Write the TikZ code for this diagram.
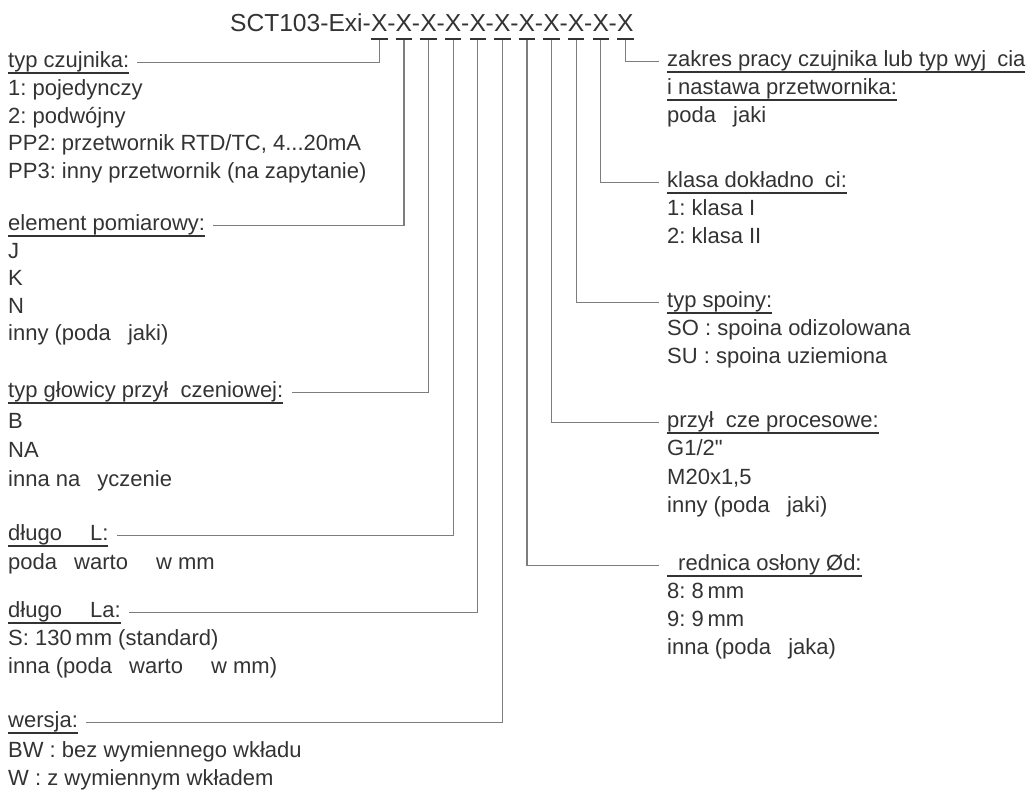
\documentclass[tikz,border=0pt]{standalone}
\usepackage{fontspec}
\setmainfont{Liberation Sans}
\definecolor{textgris}{RGB}{51,51,51}
\definecolor{liniagris}{RGB}{125,125,125}
% underline at a fixed depth below the baseline
\newcommand{\ulhead}[2][6.5pt]{\setbox0\hbox{#2}\rlap{\rule[-#1]{\wd0}{1.8pt}}\box0}
\newcommand{\calnamark}{{\addfontfeature{Ligatures=TeXOff}"}}

\begin{document}
\frenchspacing
\begin{tikzpicture}[x=1pt,y=-1pt,
  every node/.style={inner sep=0pt, anchor=base west, text=textgris, font=\fontsize{22}{28}\selectfont},
  kodfont/.style={font=\fontsize{24.6}{28}\selectfont},
  conn/.style={draw=liniagris, line width=1.2pt, shorten >=8pt}]
\useasboundingbox (0,0) rectangle (1032,796);
\def\xgap{24.6}
\def\xzero{379.3}

% kod produktu
\node[kodfont, anchor=base east] (kod) at (\xzero-16.4,31) {SCT103-Exi};
\foreach \i in {1,...,11} {
  \node[kodfont, anchor=base east] (d\i) at ({\xzero+(\i-1)*\xgap-8.2},31) {-};
  \node[kodfont, anchor=base] (x\i) at ({\xzero+(\i-1)*\xgap},31) {\ulhead[8.5pt]{X}};
}

% lewa kolumna
\foreach \n/\y/\txt in {1/67/{typ czujnika:},2/230/{element pomiarowy:},3/397/{typ głowicy przył\phantom{ą}czeniowej:},4/540/{długo\phantom{ść} L:},5/617/{długo\phantom{ść} La:},6/727/{wersja:}} {
  \node (h\n) at (8,\y) {\ulhead{\txt}};
}
\foreach \y/\txt in {95/{1: pojedynczy},123/{2: podwójny},150/{PP2: przetwornik RTD/TC, 4...20mA},178/{PP3: inny przetwornik (na zapytanie)},
  258/J,285/K,313/N,340/{inny (poda\phantom{ć} jaki)},
  428/B,457/NA,486/{inna na \phantom{ż}yczenie},
  569/{poda\phantom{ć} warto\phantom{ść} w mm},
  645/{S: 130\,mm (standard)},673/{inna (poda\phantom{ć} warto\phantom{ść} w mm)},
  757/{BW : bez wymiennego wkładu},785/{W : z wymiennym wkładem}} {
  \node (l\y) at (8,\y) {\txt};
}

% prawa kolumna
\foreach \n/\y/\txt in {1/66/{zakres pracy czujnika lub typ wyj\phantom{ś}cia},2/187/{klasa dokładno\phantom{ś}ci:},3/307/{typ spoiny:},4/427/{przył\phantom{ą}cze procesowe:},5/570/{\phantom{ś}rednica osłony Ød:}} {
  \node (r\n) at (667,\y) {\ulhead{\txt}};
}
\foreach \y/\txt in {94/{\ulhead{i nastawa przetwornika:}},122/{poda\phantom{ć} jaki},
  215/{1: klasa I},243/{2: klasa II},
  335/{SO : spoina odizolowana},363/{SU : spoina uziemiona},
  455/{G1/2\calnamark},484/{M20x1,5},512/{inny (poda\phantom{ć} jaki)},
  598/{8: 8\,mm},626/{9: 9\,mm},654/{inna (poda\phantom{ć} jaka)}} {
  \node (p\y) at (667,\y) {\txt};
}

% linie
\foreach \i in {1,...,6}
  \draw[conn] (x\i.south) |- (h\i.east);
\foreach \i/\j in {7/5,8/4,9/3,10/2,11/1}
  \draw[conn] (x\i.south) |- (r\j.west);
\end{tikzpicture}
\end{document}
